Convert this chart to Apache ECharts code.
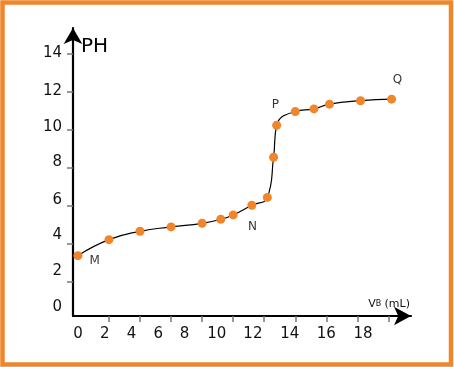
<!DOCTYPE html>
<html>
<head>
<meta charset="utf-8">
<script src="https://cdn.jsdelivr.net/npm/echarts@6/dist/echarts.min.js"></script>
<style>
html,body{margin:0;padding:0;background:#fff;}
#chart{width:454px;height:367px;}
</style>
</head>
<body>
<div id="chart"></div>
<script>
// ---- data ----
const volume = [0, 2, 4, 6, 8, 9.2, 10, 11.2, 12.2, 12.6, 12.8, 14, 15.2, 16.2, 18.2, 20.2];
const ph = [3.37, 4.21, 4.65, 4.88, 5.07, 5.28, 5.51, 6.02, 6.43, 8.54, 10.22, 10.94, 11.08, 11.33, 11.51, 11.59];
const pointNames = ['M', 'N', 'P', 'Q'];
const pointVolume = [1.08, 11.24, 12.71, 20.58];
const pointPH = [3.09, 4.90, 11.29, 12.63];
const xTickLabels = ['0', '2', '4', '6', '8', '10', '12', '14', '16', '18'];
const yTickLabels = ['0', '2', '4', '6', '8', '10', '12', '14'];
const xTicks = [2, 4, 6, 8, 10, 12, 14, 16, 18, 20];
const yTicks = [2, 4, 6, 8, 10, 12, 14];
// where the (hand-placed) tick labels sit in the reference, in axis units
const xLabelAt = [0, 1.73, 3.46, 5.18, 6.86, 8.94, 11.27, 13.64, 15.99, 18.36];
const yLabelAt = [0.69, 2.56, 4.46, 6.30, 8.26, 10.13, 11.99, 14.02];

function nearestLabel(at, labels) {
  return function (v) {
    let best = 0, d = Infinity;
    for (let i = 0; i < at.length; i++) {
      const dd = Math.abs(at[i] - v);
      if (dd < d) { d = dd; best = i; }
    }
    return labels[best];
  };
}

const FONT = '"DejaVu Sans", Verdana, sans-serif';
const ORANGE = '#F0852C';

const chart = echarts.init(document.getElementById('chart'), null, {renderer: 'canvas'});
chart.setOption({
  animation: false,
  backgroundColor: '#fff',
  grid: {left: 73, right: 43, top: 28, bottom: 51},
  graphic: [{
    type: 'rect',
    shape: {x: 2.5, y: 2.5, width: 448.5, height: 362},
    style: {fill: 'none', stroke: ORANGE, lineWidth: 4.5},
    silent: true
  }],
  xAxis: {
    type: 'value',
    min: -0.3155,
    max: 21.45,
    name: '{v|V}{b|B} {v|(mL)}',
    nameLocation: 'end',
    nameGap: -1,
    nameTextStyle: {
      align: 'right', verticalAlign: 'bottom', padding: [0, 0, 6, 0],
      rich: {
        v: {fontFamily: FONT, fontSize: 11, color: '#111'},
        b: {fontFamily: FONT, fontSize: 8, color: '#111'}
      }
    },
    splitLine: {show: false},
    axisLine: {
      onZero: false,
      lineStyle: {color: '#000', width: 2.2},
      symbol: ['none', 'arrow'],
      symbolSize: [14, 17]
    },
    axisTick: {
      show: true, inside: false, length: 6,
      customValues: xTicks,
      lineStyle: {color: '#777', width: 1.5}
    },
    axisLabel: {
      customValues: xLabelAt,
      formatter: nearestLabel(xLabelAt, xTickLabels),
      margin: 11,
      fontFamily: FONT, fontSize: 15, color: '#111'
    }
  },
  yAxis: {
    type: 'value',
    min: 0.2,
    max: 15.33,
    name: 'PH',
    nameLocation: 'end',
    nameGap: -19,
    nameTextStyle: {
      align: 'left', verticalAlign: 'middle', padding: [0, 0, 0, 8],
      fontFamily: FONT, fontSize: 20, color: '#000'
    },
    splitLine: {show: false},
    axisLine: {
      onZero: false,
      lineStyle: {color: '#000', width: 2.2},
      symbol: ['none', 'arrow'],
      symbolSize: [14, 16]
    },
    axisTick: {
      show: true, inside: false, length: 6,
      customValues: yTicks,
      lineStyle: {color: '#777', width: 1.5}
    },
    axisLabel: {
      customValues: yLabelAt,
      formatter: nearestLabel(yLabelAt, yTickLabels),
      margin: 11,
      fontFamily: FONT, fontSize: 15, color: '#111'
    }
  },
  series: [{
    type: 'line',
    data: volume.map((v, i) => [v, ph[i]]),
    smooth: 0.5,
    symbol: 'circle',
    symbolSize: 9,
    showAllSymbol: true,
    lineStyle: {color: '#000', width: 1.2},
    itemStyle: {color: ORANGE},
    z: 3
  }, {
    type: 'scatter',
    data: pointNames.map((n, i) => ({name: n, value: [pointVolume[i], pointPH[i]]})),
    symbolSize: 0,
    label: {
      show: true, position: 'inside', formatter: '{b}',
      fontFamily: FONT, fontSize: 12, color: '#000'
    },
    z: 4
  }]
});
</script>
</body>
</html>
